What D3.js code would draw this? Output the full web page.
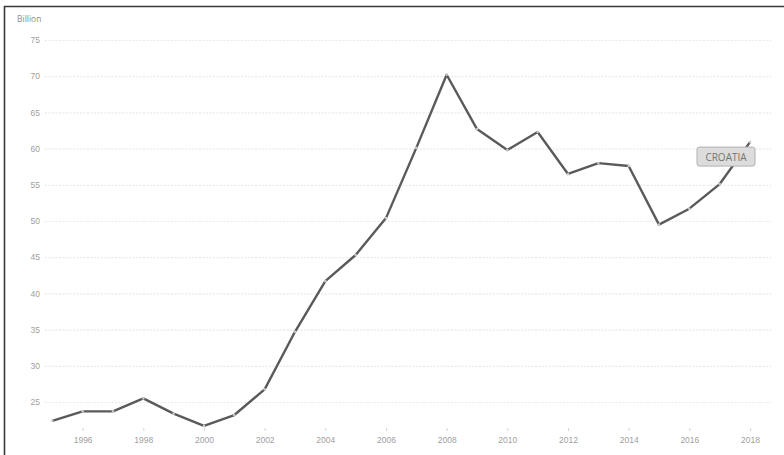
<!DOCTYPE html>
<meta charset="utf-8">
<script src="https://d3js.org/d3.v7.min.js"></script>
<style>
  body { margin: 0; background: #fff; }
  svg { display: block; font-family: "Open Sans", "DejaVu Sans", sans-serif; }
</style>
<div id="my_dataviz"></div>
<script>

// data
var years = [1995, 1996, 1997, 1998, 1999, 2000, 2001, 2002, 2003, 2004, 2005, 2006,
             2007, 2008, 2009, 2010, 2011, 2012, 2013, 2014, 2015, 2016, 2017, 2018]
var values = [22.4, 23.7, 23.7, 25.5, 23.4, 21.7, 23.2, 26.75, 34.7, 41.7, 45.3, 50.4,
              60.1, 70.2, 62.7, 59.8, 62.3, 56.5, 58.0, 57.6, 49.5, 51.7, 55.1, 60.9]
var yTicks = [25, 30, 35, 40, 45, 50, 55, 60, 65, 70, 75]
var xTicks = [1996, 1998, 2000, 2002, 2004, 2006, 2008, 2010, 2012, 2014, 2016, 2018]
var seriesName = "CROATIA"
var unitLabel = "Billion"

var width = 784, height = 455

var svg = d3.select("#my_dataviz")
  .append("svg")
  .attr("width", width)
  .attr("height", height)

// frame of the scanned page (top and left edge)
svg.append("path")
  .attr("d", "M4.5," + height + "V6.5H" + width)
  .attr("fill", "none")
  .attr("stroke", "#3a3a3a")
  .attr("stroke-width", 1.6)

var x = d3.scaleLinear()
  .domain([1995, 2018])
  .range([52.3, 750])

var y = d3.scaleLinear()
  .domain([25, 75])
  .range([402, 40])

// grid lines + y labels
var yAxis = svg.append("g")
  .attr("transform", "translate(45,0)")
  .call(d3.axisLeft(y).tickValues(yTicks).tickSize(-726).tickPadding(5))
yAxis.select(".domain").remove()
yAxis.selectAll(".tick line")
  .attr("stroke", "#e9e9e9")
  .attr("stroke-width", 1.2)
  .attr("stroke-dasharray", "2,1.5")
yAxis.selectAll(".tick text")
  .attr("fill", "#a0a0a0")
  .attr("font-size", 8.5)

// x axis
var xAxis = svg.append("g")
  .attr("transform", "translate(0,428)")
  .call(d3.axisBottom(x).tickValues(xTicks).tickFormat(d3.format("d")).tickSize(3).tickPadding(6))
xAxis.select(".domain").remove()
xAxis.selectAll(".tick line").attr("stroke", "#d4d4d4")
xAxis.selectAll(".tick text")
  .attr("fill", "#a0a0a0")
  .attr("font-size", 8.5)

svg.append("text")
  .attr("x", 17)
  .attr("y", 22)
  .attr("fill", "#8f8f8f")
  .attr("font-size", 8.5)
  .text(unitLabel)

var data = years.map(function(d, i) { return {year: d, value: values[i]} })

svg.append("path")
  .datum(data)
  .attr("fill", "none")
  .attr("stroke", "#5a5a5a")
  .attr("stroke-width", 2.4)
  .attr("stroke-linejoin", "round")
  .attr("d", d3.line()
    .x(function(d) { return x(d.year) })
    .y(function(d) { return y(d.value) }))

svg.selectAll("dots")
  .data(data)
  .enter()
  .append("circle")
    .attr("cx", function(d) { return x(d.year) })
    .attr("cy", function(d) { return y(d.value) })
    .attr("r", 1.3)
    .attr("fill", "#c8c8c8")

// series label box near the last point
var last = data[data.length - 1]
var lab = svg.append("g")
  .attr("transform", "translate(" + (x(last.year) - 53) + "," + (y(last.value) + 5) + ")")
lab.append("rect")
  .attr("width", 58)
  .attr("height", 19)
  .attr("rx", 2.5)
  .attr("fill", "#dcdcdc")
  .attr("stroke", "#b0b0b0")
  .attr("stroke-width", 1)
lab.append("text")
  .attr("x", 29)
  .attr("y", 13.5)
  .attr("text-anchor", "middle")
  .attr("fill", "#747474")
  .attr("font-size", 10)
  .text(seriesName)

</script>
